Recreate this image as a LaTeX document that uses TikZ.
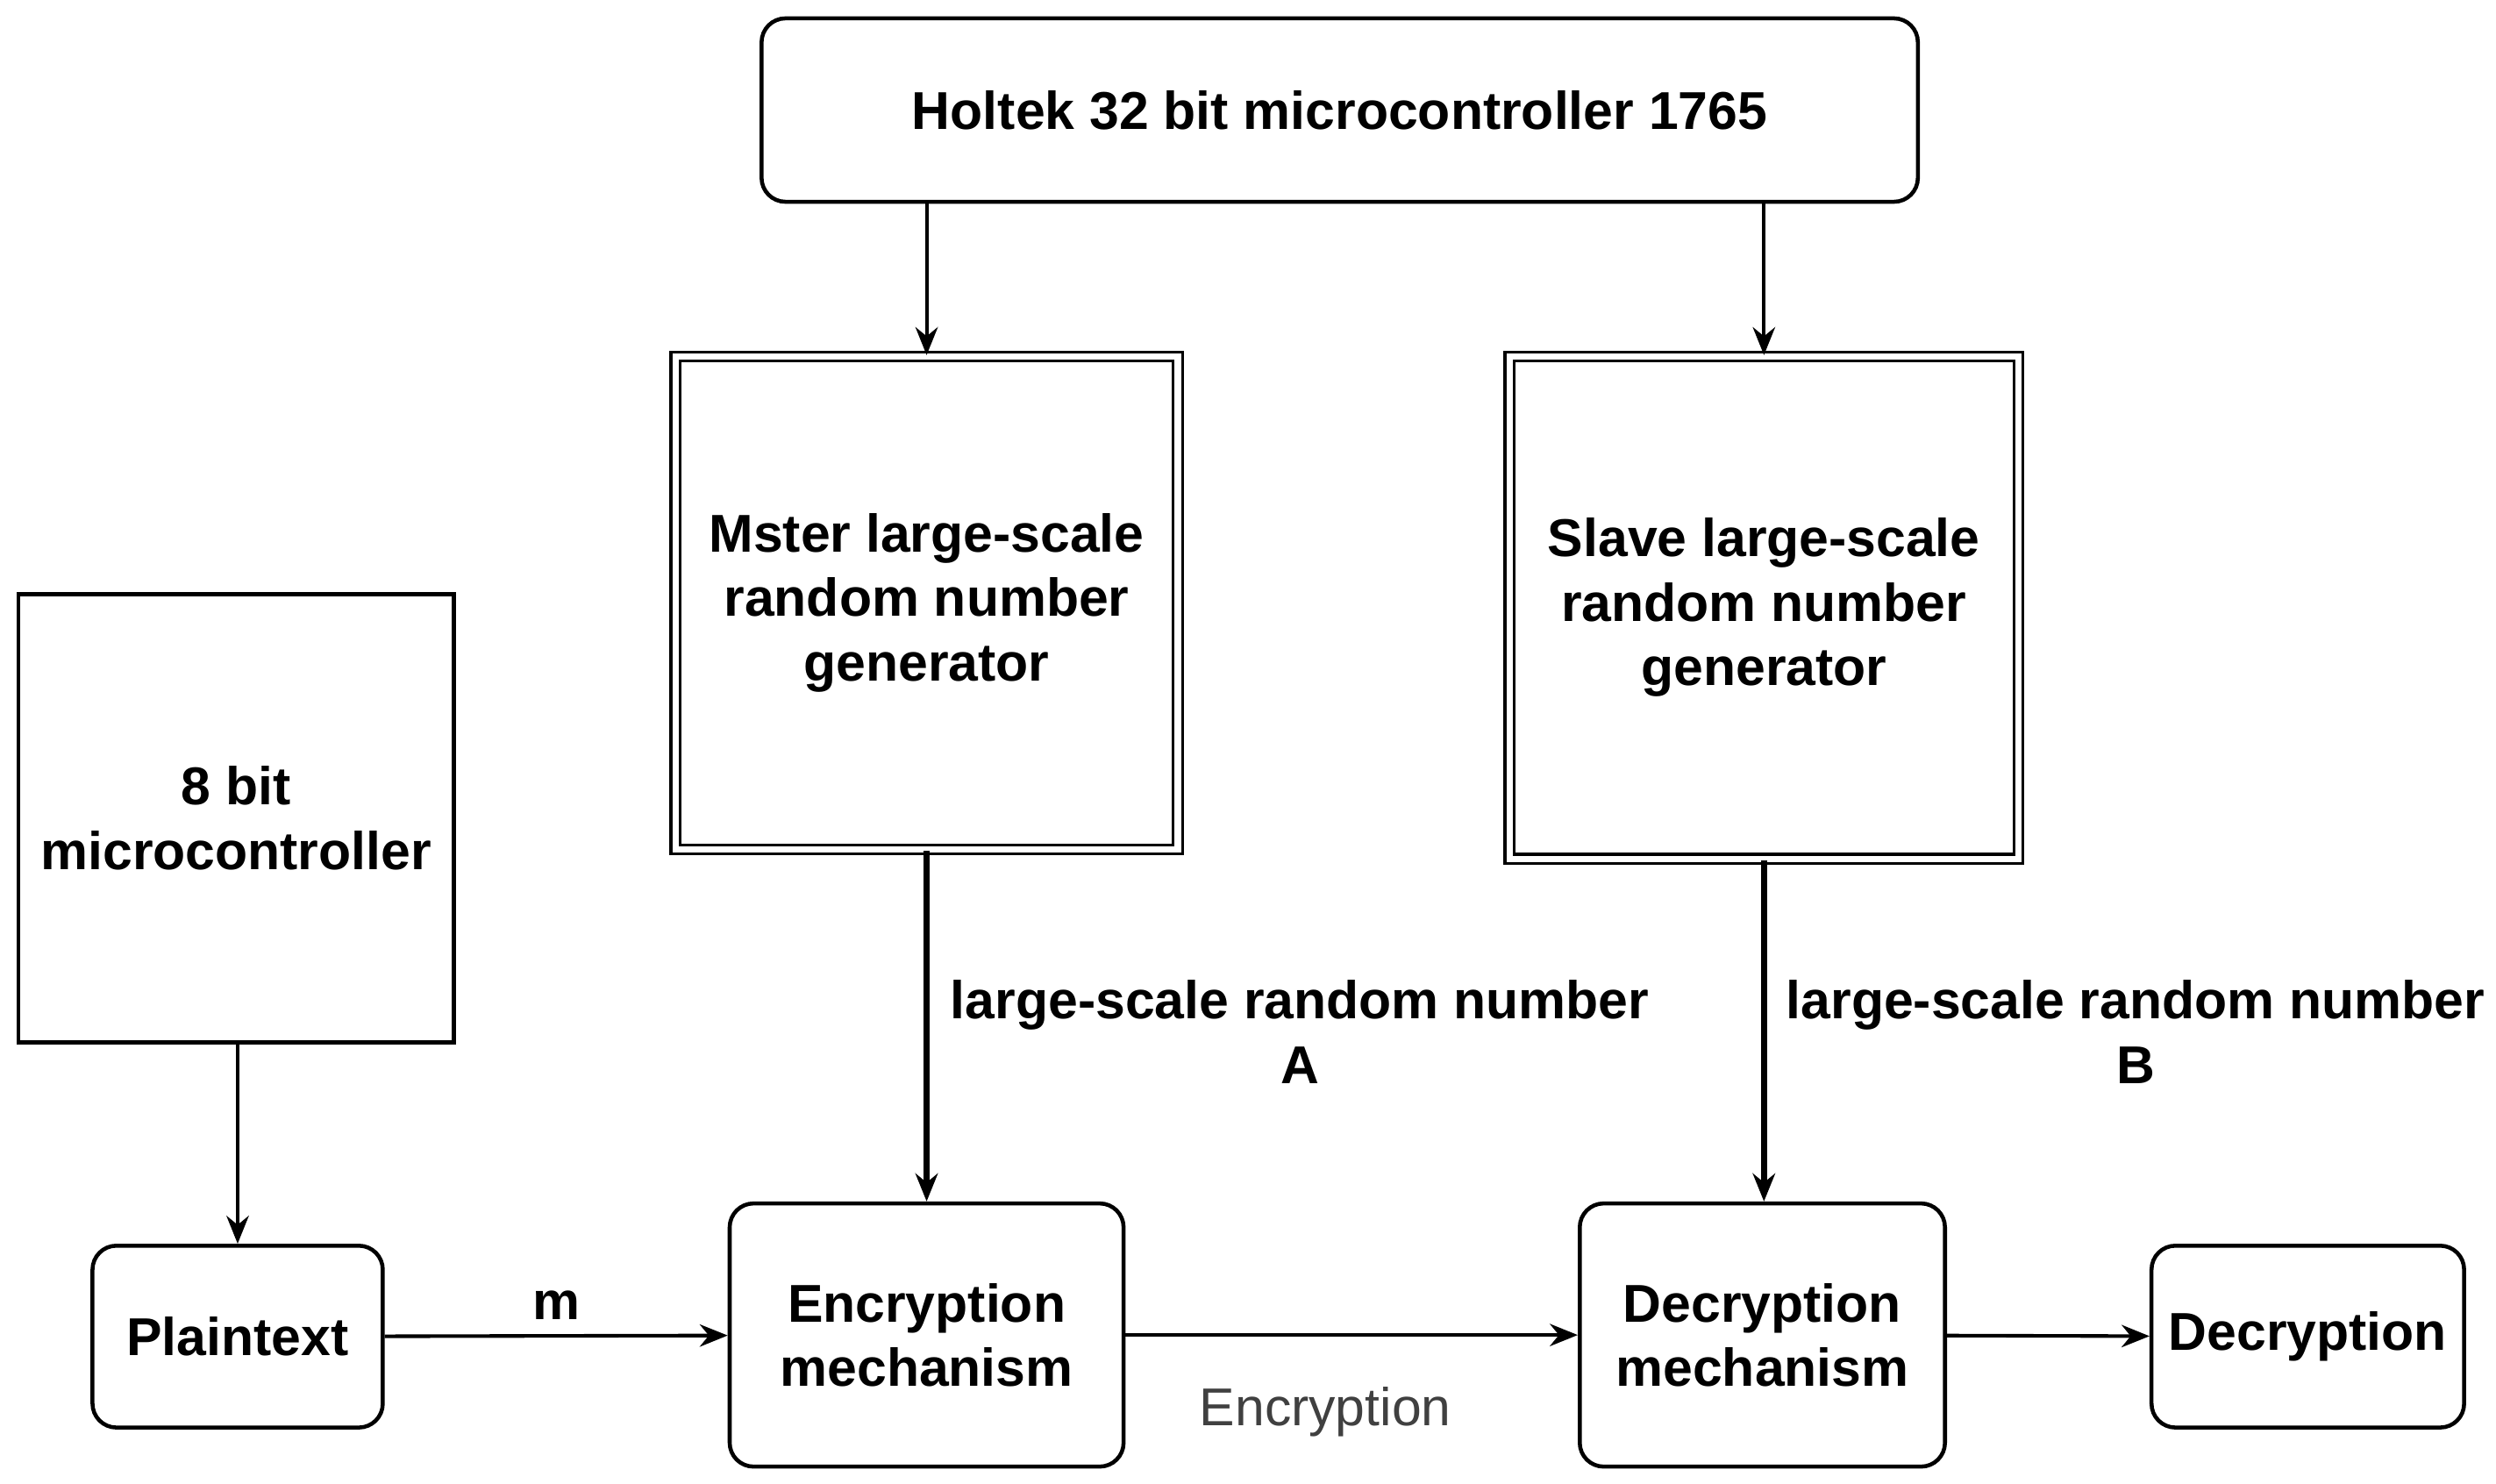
\documentclass[tikz,border=0pt]{standalone}
\usepackage{fontspec}
\setmainfont{Liberation Sans}
\usetikzlibrary{arrows.meta}
\tikzset{
  blk/.style={draw, line width=0.5mm, align=center, font=\fontsize{19}{23}\selectfont\bfseries, inner sep=2pt},
  rblk/.style={blk, rounded corners=3mm},
  dblk/.style={blk, double, double distance=0.8mm, line width=0.35mm},
  arr/.style={-{Stealth[length=3.5mm,width=2.8mm]}, line width=0.45mm},
  lbl/.style={font=\fontsize{19}{23}\selectfont\bfseries, align=center}
}
\begin{document}
\begin{tikzpicture}[x=0.2mm, y=-0.2mm]
    \useasboundingbox (0,0) rectangle (1565,930);
    \node[rblk, minimum width=145mm, minimum height=23mm] at (840,69) (holtek) {Holtek 32 bit microcontroller 1765};
    \node[dblk, minimum width=63mm, minimum height=61.8mm] at (581,378) (master) {Mster large-scale\\random number\\generator};
    \node[dblk, minimum width=63.8mm, minimum height=63mm] at (1106,381) (slave) {Slave large-scale\\random number\\generator};
    \node[blk, minimum width=54.6mm, minimum height=56.2mm] at (148,513) (mcu) {8 bit\\microcontroller};
    \node[rblk, minimum width=36.4mm, minimum height=22.8mm] at (149,838) (plain) {Plaintext};
    \node[rblk, minimum width=49.4mm, minimum height=33mm] at (581,837) (enc) {Encryption\\mechanism};
    \node[rblk, minimum width=45.8mm, minimum height=33mm] at (1105,837) (dec) {Decryption\\mechanism};
    \node[rblk, minimum width=39.2mm, minimum height=22.8mm] at (1447,838) (out) {Decryption};

    \coordinate (h1) at (581,127);
    \coordinate (h2) at (1106,127);
    \draw[arr] (h1) -- (master.north);
    \draw[arr] (h2) -- (slave.north);
    \draw[arr, line width=0.7mm] (master) -- (enc);
    \draw[arr, line width=0.7mm] (slave.south) -- (dec.north -| slave.south);
    \draw[arr] (mcu.south -| plain.north) -- (plain);
    \draw[arr] (plain) -- node[lbl, above=2pt] {m} (enc);
    \draw[arr] (enc) -- (dec);
    \draw[arr] (dec) -- (out);

    \node[lbl] at (815,647) (la) {large-scale random number\\A};
    \node[lbl] at (1339,647) (lb) {large-scale random number\\B};
    \node[font=\fontsize{19}{23}\selectfont, text=black!75] at (831,885) (ce) {Encryption};
\end{tikzpicture}
\end{document}
